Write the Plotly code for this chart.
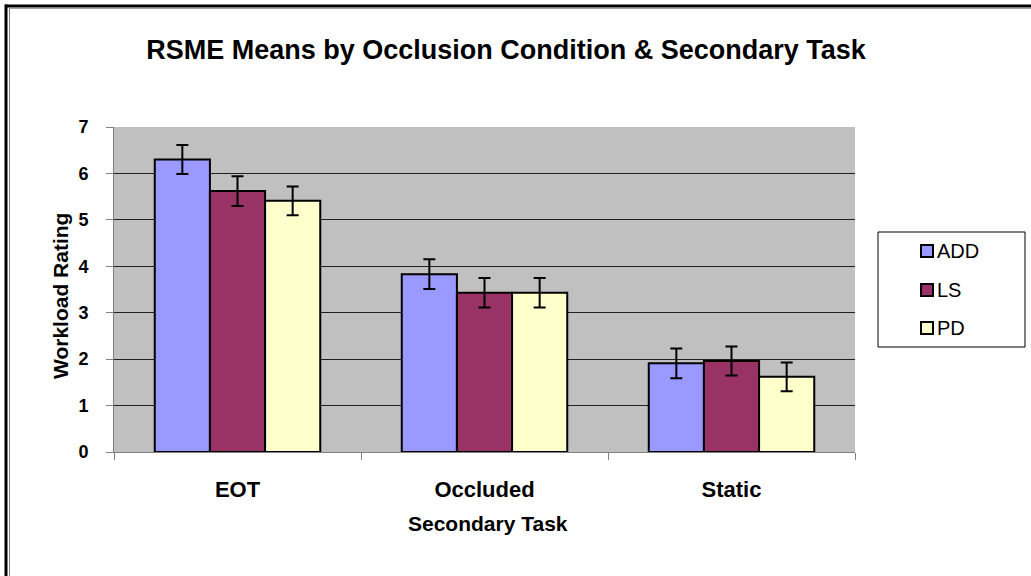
import plotly.graph_objects as go

categories = ["EOT", "Occluded", "Static"]
series_names = ["ADD", "LS", "PD"]
add_vals = [6.30, 3.83, 1.91]
ls_vals = [5.62, 3.43, 1.96]
pd_vals = [5.41, 3.43, 1.62]
add_err = [0.31, 0.32, 0.32]
ls_err = [0.32, 0.32, 0.31]
pd_err = [0.31, 0.32, 0.31]
y_ticks = [0, 1, 2, 3, 4, 5, 6, 7]

colors = ["#9999FF", "#993366", "#FFFFCC"]
values = [add_vals, ls_vals, pd_vals]
errors = [add_err, ls_err, pd_err]

W, H = 1031, 576
L, R, T, B = 114, 855, 127, 452

def px(x):
    return (x - L) / (R - L)

def py(y):
    return (B - y) / (B - T)

FONT = "Liberation Sans, Arial, sans-serif"

fig = go.Figure()
for name, vals, errs, col in zip(series_names, values, errors, colors):
    fig.add_trace(go.Bar(
        name=name, x=categories, y=vals,
        marker=dict(color=col, line=dict(color="black", width=2)),
        error_y=dict(type="data", array=errs, visible=True, color="black",
                     thickness=2, width=6),
        showlegend=False, hoverinfo="skip",
    ))

shapes = []
annotations = []
# outer frame (top and left)
shapes.append(dict(type="line", xref="paper", yref="paper", x0=px(5), x1=px(1040),
                   y0=py(6), y1=py(6), line=dict(color="black", width=3)))
shapes.append(dict(type="line", xref="paper", yref="paper", x0=px(6), x1=px(6),
                   y0=py(4.5), y1=py(590), line=dict(color="black", width=3)))
shapes.append(dict(type="line", xref="paper", yref="paper", x0=px(9), x1=px(1040),
                   y0=py(8.5), y1=py(8.5), line=dict(color="#A0A0A0", width=1)))
shapes.append(dict(type="line", xref="paper", yref="paper", x0=px(9.5), x1=px(9.5),
                   y0=py(8.5), y1=py(590), line=dict(color="#808080", width=1)))

# legend box
shapes.append(dict(type="rect", xref="paper", yref="paper", x0=px(878), x1=px(1025),
                   y0=py(232), y1=py(347), line=dict(color="black", width=1),
                   fillcolor="white"))
leg_y = [251, 290, 328]
for name, col, yy in zip(series_names, colors, leg_y):
    shapes.append(dict(type="rect", xref="paper", yref="paper", x0=px(921), x1=px(933),
                       y0=py(yy - 6), y1=py(yy + 6), fillcolor=col,
                       line=dict(color="black", width=2)))
    annotations.append(dict(text=name, xref="paper", yref="paper", x=px(935), y=py(yy),
                            xanchor="left", yanchor="middle", showarrow=False,
                            font=dict(family=FONT, size=20, color="black")))

# axis titles
annotations.append(dict(text="<b>Workload Rating</b>", xref="paper", yref="paper",
                        x=px(60), y=py(296), textangle=-90, showarrow=False,
                        xanchor="center", yanchor="middle",
                        font=dict(family=FONT, size=21, color="black")))
annotations.append(dict(text="<b>Secondary Task</b>", xref="paper", yref="paper",
                        x=px(488), y=py(523), showarrow=False,
                        xanchor="center", yanchor="middle",
                        font=dict(family=FONT, size=21, color="black")))

fig.update_layout(
    width=W, height=H,
    margin=dict(l=L, r=W - R, t=T, b=H - B),
    paper_bgcolor="white",
    plot_bgcolor="#C0C0C0",
    barmode="group",
    bargap=0.33,
    bargroupgap=0,
    title=dict(text="<b>RSME Means by Occlusion Condition & Secondary Task</b>",
               xref="container", x=506 / W, xanchor="center",
               yref="container", y=1 - 50 / H, yanchor="middle",
               font=dict(family=FONT, size=27, color="black")),
    font=dict(family=FONT, color="black"),
    shapes=shapes,
    annotations=annotations,
    xaxis=dict(
        showline=True, linecolor="#808080", linewidth=1,
        ticks="outside", tickson="boundaries", ticklen=7, tickcolor="#808080",
        tickfont=dict(family=FONT, size=22, color="black", weight="bold"),
        ticklabelstandoff=18,
        showgrid=False, fixedrange=True,
    ),
    yaxis=dict(
        range=[0, 7], tickvals=y_ticks,
        showline=True, linecolor="#808080", linewidth=1,
        ticks="outside", ticklen=7, tickcolor="#808080",
        tickfont=dict(family=FONT, size=18, color="black", weight="bold"),
        ticklabelstandoff=14,
        showgrid=True, gridcolor="#202020", gridwidth=1,
        zeroline=False, fixedrange=True,
    ),
)

fig.write_html("out.html", config={"displayModeBar": False},
               post_script="document.body.style.margin='0';document.body.style.overflow='hidden';")
